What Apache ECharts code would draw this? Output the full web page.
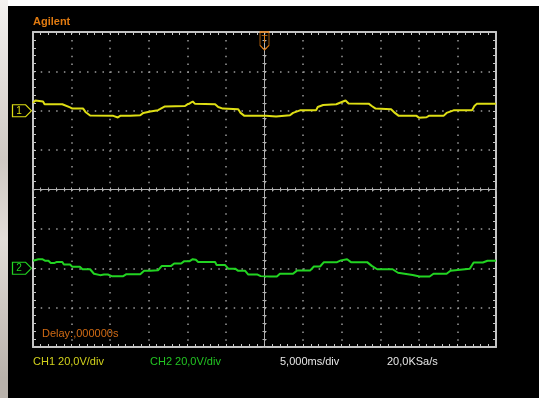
<!DOCTYPE html>
<html>
<head>
<meta charset="utf-8">
<script src="https://cdn.jsdelivr.net/npm/echarts@6/dist/echarts.min.js"></script>
<style>
  html, body { margin: 0; padding: 0; background: #ffffff; width: 539px; height: 398px; overflow: hidden; }
  #strip { position: absolute; left: 0; top: 0; width: 8px; height: 398px; background: linear-gradient(#f4f2f0, #cfc9c3 40%, #e2ddd8 60%, #b9b2ab 95%); }
  #chart { position: absolute; left: 8px; top: 6px; width: 531px; height: 392px; background: #000000; }
</style>
</head>
<body>
<div id="strip"></div>
<div id="chart"></div>
<script>
// Time in ms, volts per channel
const ch1Time = [-30.0,-29.7,-29.5,-28.7,-28.5,-26.2,-26.0,-25.2,-24.9,-23.5,-23.2,-22.6,-19.6,-19.4,-19.0,-18.7,-17.4,-17.3,-16.1,-15.7,-14.8,-13.8,-13.5,-12.9,-10.3,-10.0,-9.7,-9.3,-9.0,-6.4,-6.0,-5.4,-3.4,-3.1,-2.6,0.2,0.4,1.5,1.7,3.3,3.7,4.6,6.7,6.9,7.6,9.3,9.5,10.5,10.9,13.5,13.9,14.4,16.4,16.9,17.4,19.7,20.0,21.0,21.3,23.2,23.6,24.5,26.9,27.2,27.5,30.0];
const ch1Volts = [4.0,5.2,4.7,4.7,3.3,3.3,2.4,1.7,1.1,1.1,-0.6,-2.4,-2.6,-3.5,-3.4,-2.6,-2.6,-2.3,-2.3,-1.1,-0.4,0.3,0.9,2.2,2.4,3.2,3.7,4.7,3.5,3.3,1.9,1.1,0.8,-1.1,-2.6,-2.6,-3.4,-2.9,-2.3,-2.3,-1.1,0.2,0.3,1.9,2.9,3.3,4.0,5.2,3.7,3.6,2.4,1.1,0.8,-1.1,-2.6,-2.6,-3.5,-3.3,-2.6,-2.6,-1.1,0.2,0.3,2.4,3.5,3.6];
const ch2Time = [-30.0,-29.3,-28.8,-28.4,-28.0,-27.7,-27.2,-26.9,-26.2,-26.0,-25.2,-24.9,-23.9,-23.6,-22.6,-22.1,-21.3,-20.8,-20.3,-19.8,-18.3,-17.9,-16.1,-15.6,-14.8,-13.8,-13.3,-12.1,-11.7,-10.8,-10.4,-9.7,-9.3,-8.9,-8.6,-6.4,-6.2,-5.1,-4.7,-3.8,-3.4,-2.5,-2.1,-0.9,-0.5,0.7,1.6,2.0,3.7,4.2,5.9,6.4,7.2,7.7,9.4,9.9,10.7,11.2,13.3,13.9,14.6,16.6,17.3,19.2,20.1,21.4,21.9,23.6,24.1,26.6,27.1,28.3,28.9,30.0];
const ch2Volts = [3.8,4.6,4.6,3.8,3.8,2.7,2.7,3.2,3.2,1.9,1.9,0.7,0.7,-0.5,-0.5,-2.8,-3.5,-3.2,-3.2,-4.0,-4.0,-3.0,-3.0,-1.3,-1.3,-1.0,1.2,1.2,2.4,2.4,3.6,3.6,4.6,4.3,3.2,3.2,1.6,1.6,-0.2,-0.2,-1.3,-1.3,-3.2,-3.2,-4.0,-4.2,-4.2,-2.8,-2.8,-1.2,-1.2,0.9,0.9,3.1,3.1,4.0,4.6,3.1,3.1,1.2,-0.5,-0.5,-2.3,-3.4,-4.2,-4.2,-2.8,-2.8,-1.3,-0.3,2.9,2.9,3.8,3.8];

const ch1Label = 'CH1 20,0V/div';
const ch2Label = 'CH2 20,0V/div';
const timeLabel = '5,000ms/div';
const rateLabel = '20,0KSa/s';
const delayLabel = 'Delay:,000000s';
const brandLabel = 'Agilent';

const YEL = '#dede14', GRN = '#22d422', ORG = '#e07a10', BORDER = '#c4c4c4', DOT = '#9a9a9a';
const FONT = '"Liberation Sans", Arial, sans-serif';

function pairs(t, v) { return t.map((x, i) => [x, v[i]]); }

const borderX = (pos) => ({
  type: 'value', min: -30, max: 30, interval: 5, position: pos,
  axisLine: { show: true, onZero: false, lineStyle: { color: BORDER, width: 2 } },
  axisTick: { show: true, inside: true, length: 3, lineStyle: { color: BORDER } },
  minorTick: { show: true, splitNumber: 5, length: 3, lineStyle: { color: BORDER } },
  axisLabel: { show: false },
  splitLine: pos === 'bottom' ? { show: true, lineStyle: { color: DOT, width: 1.5, type: [1.5, 6.38] } } : { show: false }
});
const borderY = (pos, mn, mx, split) => ({
  type: 'value', min: mn, max: mx, interval: 20, position: pos,
  axisLine: { show: true, onZero: false, lineStyle: { color: BORDER, width: 2 } },
  axisTick: { show: true, inside: true, length: 3, lineStyle: { color: BORDER } },
  minorTick: { show: true, splitNumber: 5, length: 3, lineStyle: { color: BORDER } },
  axisLabel: { show: false },
  splitLine: split ? { show: true, lineStyle: { color: DOT, width: 1.5, type: [1.5, 6.22] } } : { show: false }
});
const centerX = (inside) => ({
  type: 'value', min: -30, max: 30, interval: 5, position: 'bottom',
  axisLine: { show: true, onZero: true, onZeroAxisIndex: 2, lineStyle: { color: '#b0b0b0', width: 1 } },
  axisTick: { show: true, inside: inside, length: 2, lineStyle: { color: '#b0b0b0' } },
  minorTick: { show: true, splitNumber: 5, length: 2, lineStyle: { color: '#b0b0b0' } },
  axisLabel: { show: false }, splitLine: { show: false }
});
const centerY = (inside) => ({
  type: 'value', min: -4, max: 4, interval: 1, position: 'left',
  axisLine: { show: true, onZero: true, onZeroAxisIndex: 0, lineStyle: { color: '#b0b0b0', width: 1 } },
  axisTick: { show: true, inside: inside, length: 2, lineStyle: { color: '#b0b0b0' } },
  minorTick: { show: true, splitNumber: 5, length: 2, lineStyle: { color: '#b0b0b0' } },
  axisLabel: { show: false }, splitLine: { show: false }
});

const chart = echarts.init(document.getElementById('chart'), null, { renderer: 'canvas' });
chart.setOption({
  animation: false,
  backgroundColor: '#000000',
  grid: { left: 25, top: 26, width: 463, height: 315, containLabel: false },
  xAxis: [borderX('bottom'), borderX('top'), centerX(false), centerX(true)],
  yAxis: [borderY('left', -120, 40, true), borderY('right', -40, 120, false), centerY(false), centerY(true)],
  series: [
    {
      name: 'CH1', type: 'line', xAxisIndex: 0, yAxisIndex: 0,
      data: pairs(ch1Time, ch1Volts), showSymbol: false, symbol: 'none',
      lineStyle: { color: YEL, width: 2 }, z: 5,
      markPoint: {
        animation: false,
        data: [
          { coord: [-30, 0], symbol: 'path://M0,0 L13,0 L19,6 L13,12 L0,12 Z', symbolSize: [19, 12], symbolOffset: [-11, 0],
            itemStyle: { color: 'rgba(0,0,0,0)', borderColor: YEL, borderWidth: 1 },
            label: { show: true, formatter: '1', color: YEL, fontSize: 10, fontFamily: FONT, offset: [-3, 0] } },
          { coord: [0, 40], symbol: 'path://M0,0 L10,0 L10,14 L5,19 L0,14 Z', symbolSize: [9, 18], symbolOffset: [0, 9],
            itemStyle: { color: 'rgba(0,0,0,0)', borderColor: ORG, borderWidth: 1 },
            label: { show: true, formatter: 'T', color: ORG, fontSize: 10, fontFamily: FONT, offset: [0, -1] } }
        ]
      }
    },
    {
      name: 'CH2', type: 'line', xAxisIndex: 0, yAxisIndex: 1,
      data: pairs(ch2Time, ch2Volts), showSymbol: false, symbol: 'none',
      lineStyle: { color: GRN, width: 2 }, z: 5,
      markPoint: {
        animation: false,
        data: [
          { coord: [-30, 0], symbol: 'path://M0,0 L13,0 L19,6 L13,12 L0,12 Z', symbolSize: [19, 12], symbolOffset: [-11, 0],
            itemStyle: { color: 'rgba(0,0,0,0)', borderColor: GRN, borderWidth: 1 },
            label: { show: true, formatter: '2', color: GRN, fontSize: 10, fontFamily: FONT, offset: [-3, 0] } }
        ]
      }
    }
  ],
  graphic: [
    { type: 'text', left: 25, top: 10, style: { text: brandLabel, fill: ORG, font: 'bold 11px ' + FONT } },
    { type: 'text', left: 34, top: 322, style: { text: delayLabel, fill: '#d06a14', font: '11px ' + FONT } },
    { type: 'text', left: 25, top: 350, style: { text: ch1Label, fill: '#d2d21c', font: '11px ' + FONT } },
    { type: 'text', left: 142, top: 350, style: { text: ch2Label, fill: '#22c422', font: '11px ' + FONT } },
    { type: 'text', left: 272, top: 350, style: { text: timeLabel, fill: '#e6e6e6', font: '11px ' + FONT } },
    { type: 'text', left: 379, top: 350, style: { text: rateLabel, fill: '#e6e6e6', font: '11px ' + FONT } }
  ]
});
</script>
</body>
</html>
